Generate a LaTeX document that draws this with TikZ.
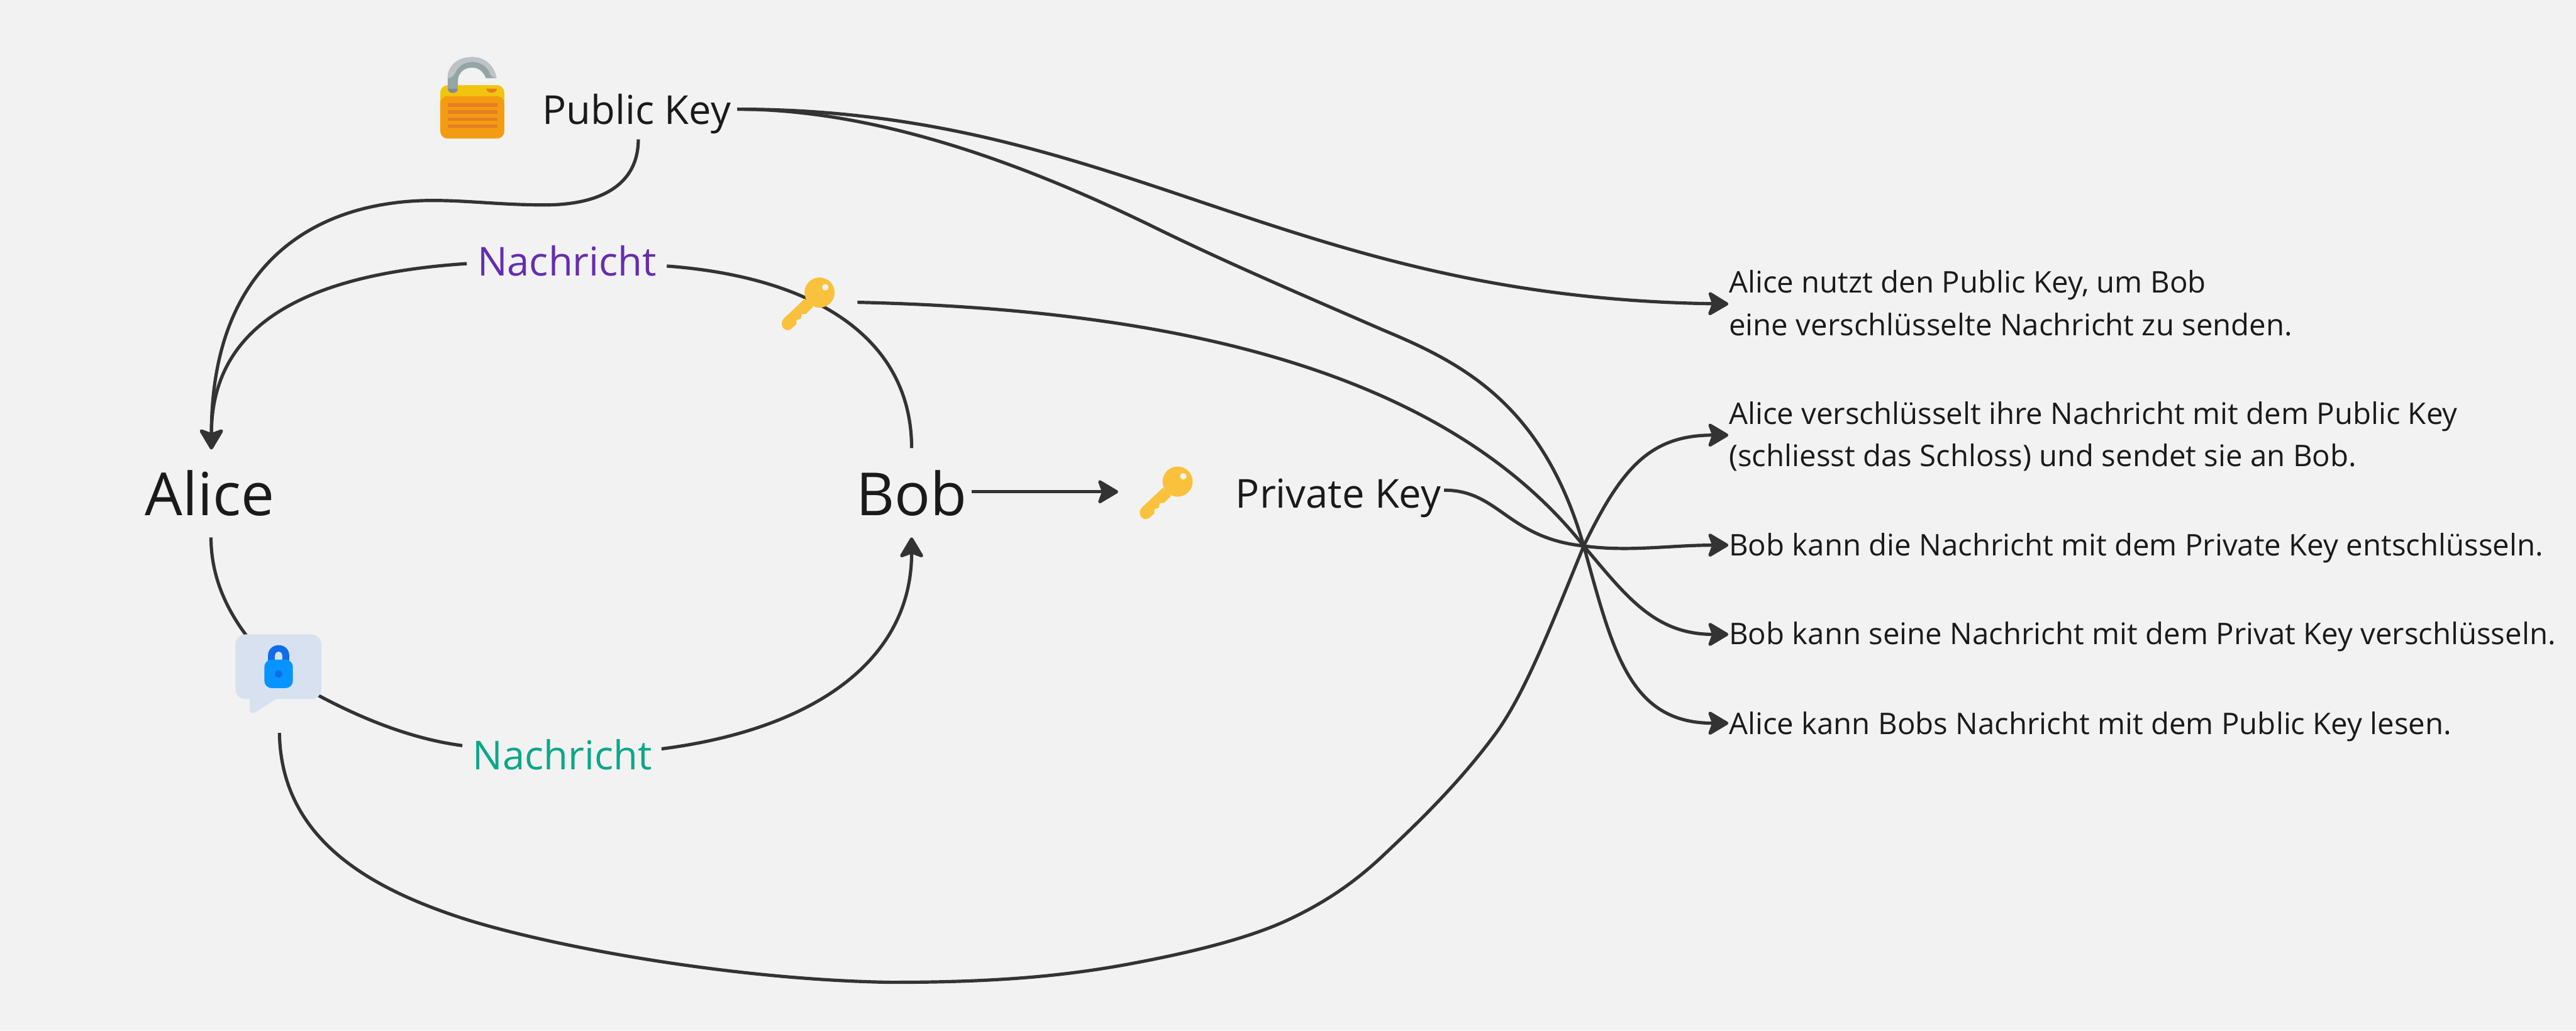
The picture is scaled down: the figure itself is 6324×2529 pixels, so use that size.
\documentclass[tikz,border=0pt]{standalone}
\usepackage{fontspec}
\setmainfont{Open Sans}
\usetikzlibrary{arrows.meta}
\definecolor{bg}{HTML}{F2F2F2}
\definecolor{ln}{HTML}{333333}
\definecolor{tx}{HTML}{1A1A1A}
\definecolor{purp}{HTML}{652DB0}
\definecolor{grn}{HTML}{0CA789}
\definecolor{keyc}{HTML}{FAC13C}
\tikzset{
  x=0.01cm,y=-0.01cm,
  conn/.style={draw=ln,line width=0.08cm},
  arr/.style={conn,-{Stealth[length=0.56cm,width=0.66cm,inset=0.12cm,round]}},
  big/.style={inner sep=0,text=tx,font=\fontsize{41.5}{50}\selectfont},
  mid/.style={inner sep=0,text=tx,font=\fontsize{27.8}{34}\selectfont},
  small/.style={inner sep=0,text=tx,align=left,anchor=west,font=\fontsize{20.8}{29.8}\selectfont},
  keyicon/.pic={
    \fill[keyc] (0,0) circle (37);
    \fill[keyc] (-36,15) -- (-88,64) .. controls (-100,76) and (-88,100) .. (-71,90) -- (-57,78) -- (-57,68) -- (-46,64) -- (-44,53) -- (-33,52) -- (-16,35) -- cycle;
    \fill[bg] (14,-13) circle (8);
  }
}
\begin{document}
\begin{tikzpicture}
\useasboundingbox (0,0) rectangle (6324,2529);
\fill[bg] (0,0) rectangle (6324,2529);

% text nodes
\node[mid,anchor=west] (pk) at (1331,280) {Public Key};
\node[big] (alice) at (515,1210) {Alice};
\node[big] (bob) at (2238,1210) {Bob};
\node[mid,text=purp] (nachp) at (1392,641) {Nachricht};
\node[mid,text=grn] (nachg) at (1381,1852) {Nachricht};
\node[mid,anchor=west] (prk) at (3033,1222) {Private Key};
\node[small] (t1) at (4244,744) {Alice nutzt den Public Key, um Bob\\eine verschlüsselte Nachricht zu senden.};
\node[small] (t2) at (4244,1071) {Alice verschlüsselt ihre Nachricht mit dem Public Key\\(schliesst das Schloss) und sendet sie an Bob.};
\node[small] (t3) at (4244,1345) {Bob kann die Nachricht mit dem Private Key entschlüsseln.};
\node[small] (t4) at (4244,1563) {Bob kann seine Nachricht mit dem Privat Key verschlüsseln.};
\node[small] (t5) at (4244,1783) {Alice kann Bobs Nachricht mit dem Public Key lesen.};

% connector ends
\coordinate (hub) at (3888,1340);
\coordinate (pkE) at (1810,268);
\coordinate (pkS) at (1567,342);
\coordinate (aN) at (519,1103);
\coordinate (aS) at (518,1319);
\coordinate (bN) at (2238,1100);
\coordinate (bS) at (2238,1319);
\coordinate (bE) at (2385,1207);
\coordinate (k2W) at (2745,1207);
\coordinate (npW) at (1146,647);
\coordinate (npE) at (1637,653);
\coordinate (ngW) at (1135,1830);
\coordinate (ngE) at (1624,1838);
\coordinate (k1E) at (2105,742);
\coordinate (prkE) at (3545,1203);
\coordinate (bubN) at (605,1560);
\coordinate (bubE) at (782,1707);
\coordinate (bubS) at (686,1799);
\coordinate (t1W) at (4243,746);
\coordinate (t2W) at (4243,1068);
\coordinate (t3W) at (4243,1338);
\coordinate (t4W) at (4243,1557);
\coordinate (t5W) at (4243,1775);

% connectors
\draw[arr] (pkS) .. controls (1567,450) and (1480,503) .. (1337,503) .. controls (1230,503) and (1150,492) .. (1063,492) .. controls (780,492) and (519,640) .. (aN);
\draw[arr] (npW) .. controls (800,670) and (519,770) .. (aN);
\draw[conn] (bN) .. controls (2238,830) and (2000,680) .. (npE);
\draw[conn] (aS) .. controls (518,1420) and (560,1500) .. (bubN);
\draw[conn] (bubE) .. controls (900,1770) and (1020,1815) .. (ngW);
\draw[arr] (ngE) .. controls (2000,1790) and (2238,1620) .. (bS);
\draw[arr] (bE) -- (k2W);
\draw[arr] (pkE) .. controls (2750,268) and (3150,730) .. (t1W);
\draw[conn] (pkE) .. controls (2200,268) and (2600,445) .. (2820,551) .. controls (3000,640) and (3200,725) .. (3400,812) .. controls (3600,895) and (3790,1000) .. (hub);
\draw[conn] (k1E) .. controls (2900,760) and (3550,915) .. (hub);
\draw[conn] (prkE) .. controls (3680,1203) and (3700,1320) .. (hub);
\draw[conn] (bubS) .. controls (690,2060) and (910,2180) .. (1133,2253) .. controls (1350,2323) and (1800,2405) .. (2188,2411) .. controls (2450,2411) and (2620,2395) .. (2783,2364) .. controls (2900,2342) and (3060,2307) .. (3168,2255) .. controls (3250,2216) and (3320,2170) .. (3391,2104) .. controls (3480,2020) and (3580,1925) .. (3672,1800) .. controls (3745,1700) and (3810,1530) .. (hub);
\draw[arr] (hub) .. controls (3980,1150) and (4050,1068) .. (t2W);
\draw[arr] (hub) .. controls (4000,1355) and (4100,1338) .. (t3W);
\draw[arr] (hub) .. controls (3990,1460) and (4060,1557) .. (t4W);
\draw[arr] (hub) .. controls (3960,1600) and (4000,1775) .. (t5W);

% keys
\pic at (2012,718) {keyicon};
\pic at (2891,1182) {keyicon};

% open padlock
\fill[color={rgb,255:red,149;green,165;blue,166}] (1099,218) -- (1099,192) .. controls (1099,160) and (1125,140) .. (1159,140) .. controls (1190,140) and (1213,160) .. (1219,192) -- (1193,192) .. controls (1186,175) and (1175,166) .. (1159,166) .. controls (1138,166) and (1124,180) .. (1124,200) -- (1124,218) -- cycle;
\fill[color={rgb,255:red,189;green,195;blue,199}] (1099,192) .. controls (1099,160) and (1125,140) .. (1159,140) .. controls (1190,140) and (1213,160) .. (1219,192) .. controls (1210,191) and (1205,187) .. (1202,178) .. controls (1195,162) and (1178,152) .. (1159,152) .. controls (1140,152) and (1125,162) .. (1118,178) .. controls (1114,187) and (1108,191) .. (1099,192) -- cycle;
\fill[color={rgb,255:red,241;green,196;blue,15},rounded corners=0.18cm] (1081,209) rectangle (1238,340);
\fill[color={rgb,255:red,243;green,156;blue,18},rounded corners=0.18cm] (1081,236) rectangle (1238,340);
\fill[color={rgb,255:red,149;green,165;blue,166}] (1099,209) rectangle (1124,218);
\fill[color={rgb,255:red,127;green,140;blue,141}] (1099,218) -- (1124,218) .. controls (1124,232) and (1099,232) .. (1099,218) -- cycle;
\fill[color={rgb,255:red,230;green,126;blue,34}] (1194,218) -- (1220,218) .. controls (1218,231) and (1196,231) .. (1194,218) -- cycle;
\foreach \yy in {253,270,288,305}{
  \fill[color={rgb,255:red,230;green,126;blue,34}] (1099,\yy) rectangle (1221,\yy+9);
}

% message bubble
\fill[color={rgb,255:red,216;green,225;blue,240},rounded corners=0.25cm] (578,1557) rectangle (789,1716);
\fill[color={rgb,255:red,216;green,225;blue,240}] (613,1710) -- (613,1742) .. controls (613,1750) and (620,1753) .. (627,1748) -- (677,1716) -- (677,1710) -- cycle;
\fill[color={rgb,255:red,16;green,108;blue,232}] (658,1625) -- (658,1609) .. controls (658,1575) and (710,1575) .. (710,1609) -- (710,1625) -- cycle;
\fill[color={rgb,255:red,216;green,225;blue,240}] (675,1625) -- (675,1610) .. controls (675,1596) and (693,1596) .. (693,1610) -- (693,1625) -- cycle;
\fill[color={rgb,255:red,8;green,148;blue,255},rounded corners=0.18cm] (649,1619) rectangle (719,1689);
\fill[color={rgb,255:red,16;green,108;blue,232}] (684,1654) circle (9);
\end{tikzpicture}
\end{document}
